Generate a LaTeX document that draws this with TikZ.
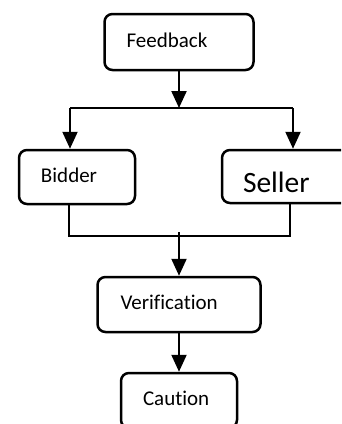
\documentclass[tikz,border=0pt]{standalone}
\usepackage{fontspec}
\setmainfont{Carlito}[Ligatures=CommonOff]
\usetikzlibrary{arrows.meta}

\begin{document}
\begin{tikzpicture}[x=1pt, y=-1pt,
  stage/.style={draw, line width=2.5pt, rounded corners=8pt, align=left,
    inner xsep=22pt, inner ysep=0pt,
    font=\fontsize{21}{25}\selectfont, text height=14.7pt, text depth=4.2pt},
  flow/.style={line width=2.2pt, -{Triangle[width=15pt,length=17pt]}},
  link/.style={line width=1.8pt}]
  \useasboundingbox (0,0) rectangle (341,424);
  \clip (0,0) rectangle (341,424);

  % boxes
  \node[stage, text width=105pt, minimum height=56pt] (fb)  at (179,42)    {Feedback};
  \node[stage, text width=72pt,  minimum height=54pt] (bid) at (77,177)    {Bidder};
  \node[stage, text width=96pt,  minimum height=53pt, inner xsep=21pt,
        font=\fontsize{29.5}{34}\selectfont, text height=31pt, text depth=0pt]
        (sel) at (291,176.5) {Seller};
  \node[stage, text width=117pt, minimum height=55pt, inner xsep=23pt] (ver) at (179,304.5) {Verification};
  \node[stage, text width=72pt,  minimum height=55pt] (cau) at (179,400.5) {Caution};

  % branching points
  \coordinate (split) at (179,108);
  \coordinate (bl) at (70,108);
  \coordinate (br) at (293,108);
  \coordinate (jl) at (69,236);
  \coordinate (jr) at (290,236);
  \coordinate (merge) at (179,232);

  % Feedback splits to Bidder and Seller
  \draw[flow] (fb.south) -- (split);
  \draw[link] (bl) -- (br);
  \draw[flow] (bl) -- (bl |- bid.north);
  \draw[flow] (br) -- (br |- sel.north);

  % Bidder and Seller join towards Verification
  \draw[link] (jl |- bid.south) -- (jl) -- (jr) -- (jr |- sel.south);
  \draw[flow] (merge) -- (ver.north);
  \draw[flow] (ver.south) -- (cau.north);
\end{tikzpicture}
\end{document}
